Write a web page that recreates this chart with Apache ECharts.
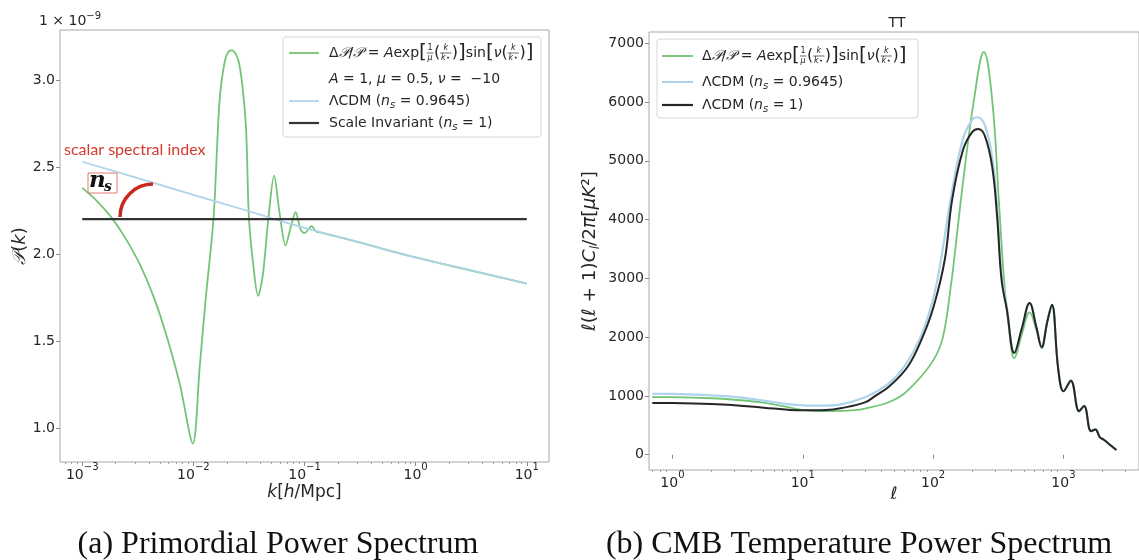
<!DOCTYPE html>
<html><head><meta charset="utf-8">
<script src="https://cdn.jsdelivr.net/npm/echarts@6/dist/echarts.min.js"></script>
<style>html,body{margin:0;padding:0;background:#fff}#c{width:1139px;height:560px}</style>
</head><body><div id="c"></div>
<script>
// ---------- Panel (a): primordial power spectrum (values in units of 1e-9) ----------
const kGreen = [0.001, 0.00133, 0.0018, 0.0024, 0.0033, 0.0045, 0.0058, 0.0076, 0.0099, 0.0114, 0.0129, 0.0152, 0.0172, 0.0192, 0.0208, 0.0224, 0.0240, 0.0257, 0.0278, 0.0299, 0.0316, 0.0347, 0.0382, 0.0422, 0.0474, 0.0533, 0.0595, 0.0676, 0.0755, 0.0832, 0.0923, 0.100, 0.116, 0.127, 0.147, 0.3, 1, 10];
const pGreen = [2.38, 2.31, 2.216, 2.10, 1.94, 1.735, 1.52, 1.245, 0.91, 1.35, 1.74, 2.21, 2.88, 3.11, 3.165, 3.17, 3.15, 3.10, 2.95, 2.70, 2.21, 1.93, 1.76, 1.88, 2.21, 2.45, 2.24, 2.05, 2.16, 2.24, 2.14, 2.12, 2.16, 2.13, 2.12, 2.07, 1.98, 1.83];
const kLcdm = [0.001, 0.003, 0.01, 0.03, 0.1, 0.3, 1, 3, 10];
const pLcdm = [2.53, 2.44, 2.34, 2.25, 2.15, 2.07, 1.98, 1.91, 1.83];
const kInv = [0.001, 10];
const pInv = [2.2, 2.2];
const aXTicks = [1e-3, 1e-2, 1e-1, 1, 10];
const aYTicks = [1.0, 1.5, 2.0, 2.5, 3.0];

// ---------- Panel (b): CMB TT spectrum ----------
const ellTail = [912, 1003, 1140, 1320, 1440, 1630, 1760, 1900, 2040, 2150, 2300, 2550];
const clTail = [1460, 1080, 1260, 740, 830, 400, 430, 300, 255, 215, 160, 80];
const ellInv = [0.7, 1, 2, 3, 5, 8, 10, 15, 20, 30, 36, 46, 64, 83, 101, 123, 140, 170, 200, 222, 250, 284, 310, 335, 368, 420, 480, 550, 620, 681, 750, 816];
const clInv = [880, 878, 862, 840, 800, 762, 755, 760, 795, 890, 1000, 1160, 1500, 2000, 2520, 3320, 4340, 5190, 5490, 5540, 5420, 4900, 4050, 2980, 2470, 1730, 2150, 2580, 2170, 1830, 2250, 2550];
const ellLcdm = [0.7, 1, 2, 3, 5, 8, 10, 15, 20, 31.6, 45, 60, 80, 100, 115, 140, 170, 200, 220, 250, 284, 310, 335, 368, 420, 480, 550, 620, 681, 750, 816];
const clLcdm = [1037, 1035, 1010, 985, 920, 855, 840, 835, 860, 1000, 1200, 1500, 2000, 2650, 3320, 4500, 5380, 5700, 5740, 5600, 5060, 4200, 3080, 2520, 1740, 2150, 2580, 2170, 1830, 2250, 2550];
const ellGreen = [0.7, 1, 2, 3, 5, 8, 10, 15, 20, 30, 50, 70, 100, 119, 139, 145, 170, 206, 245, 284, 320, 350, 380, 420, 480, 550, 620, 681, 750, 816];
const clGreen = [981, 979, 960, 935, 885, 800, 760, 742, 745, 785, 930, 1180, 1600, 2000, 2980, 3320, 4650, 6040, 6850, 6040, 4300, 2980, 2200, 1640, 2050, 2420, 2120, 1810, 2250, 2550];
const bXTicks = [1, 10, 100, 1000];
const bYTicks = [0, 1000, 2000, 3000, 4000, 5000, 6000, 7000];

// ---------- styling ----------
const TXT = '#262626', FRAME = '#a8a8a8', TICK = '#8a8a8a';
const GREEN = '#74c476', BLUE = '#add4ea', BLACK = '#262626';
const FAM = 'DejaVu Sans';
const TS = 14;
function pow10Label(v){ const e = Math.round(Math.log10(v)); return '{b|10}{e|' + String(e).replace('-', '\u2212') + '}'; }
const powRich = {
  b: {fontSize: TS, fontFamily: FAM, color: TXT, lineHeight: 20, verticalAlign: 'bottom'},
  e: {fontSize: 10, fontFamily: FAM, color: TXT, lineHeight: 11, verticalAlign: 'top'}
};
function minorTicks(lo, hi){ const out = []; for (let e = Math.floor(Math.log10(lo)); e <= Math.ceil(Math.log10(hi)); e++) for (let m = 2; m <= 9; m++){ const v = m * Math.pow(10, e); if (v > lo && v < hi) out.push(v); } return out; }
const zip = (a, b) => a.map((x, i) => [x, b[i]]);

const aXmin = Math.pow(10, -3.2), aXmax = Math.pow(10, 1.2);
const bXmin = Math.pow(10, -0.18), bXmax = Math.pow(10, 3.58);

function majorX(grid, min, max, ticks, name, nameGap){
  return { gridIndex: grid, type: 'log', logBase: 10, min, max, position: 'bottom',
    axisLine: {show: false}, splitLine: {show: false},
    axisTick: {show: true, customValues: ticks, length: 4, lineStyle: {color: TICK, width: 1}},
    axisLabel: {customValues: ticks, formatter: pow10Label, rich: powRich, color: TXT, margin: 0},
    name, nameLocation: 'middle', nameGap, nameMoveOverlap: false,
    nameTextStyle: {color: TXT, fontSize: 17, fontFamily: FAM, rich: {
      i: {fontStyle: 'italic', fontSize: 17, fontFamily: FAM, color: TXT},
      n: {fontSize: 17, fontFamily: FAM, color: TXT}}}
  };
}
function minorX(grid, min, max){
  return { gridIndex: grid, type: 'log', logBase: 10, min, max, position: 'bottom',
    axisLine: {show: false}, splitLine: {show: false}, axisLabel: {show: false},
    axisTick: {show: true, customValues: minorTicks(min, max), length: 2, lineStyle: {color: TICK, width: 0.8}} };
}

const option = {
  animation: false,
  backgroundColor: '#fff',
  grid: [
    {left: 60, top: 30, width: 489, height: 432, show: true, borderColor: FRAME, borderWidth: 1, containLabel: false},
    {left: 649, top: 32, width: 495, height: 438, show: true, borderColor: FRAME, borderWidth: 1, containLabel: false}
  ],
  xAxis: [
    majorX(0, aXmin, aXmax, aXTicks, '{i|k}{n|[}{i|h}{n|/Mpc]}', 22),
    minorX(0, aXmin, aXmax),
    majorX(1, bXmin, bXmax, bXTicks, '{i|\u2113}', 16),
    minorX(1, bXmin, bXmax)
  ],
  yAxis: [
    { gridIndex: 0, type: 'value', min: 0.805, max: 3.287,
      axisLine: {show: false}, splitLine: {show: false},
      axisTick: {customValues: aYTicks, length: 4, lineStyle: {color: TICK}},
      axisLabel: {customValues: aYTicks, formatter: v => v.toFixed(1), color: TXT, fontSize: TS, fontFamily: FAM, margin: 5},
      name: '{c|\ud835\udcab}{n|(}{i|k}{n|)}', nameLocation: 'middle', nameRotate: 90, nameGap: 31,
      nameTextStyle: {rich: {
        c: {fontSize: 18, fontFamily: FAM, fontStyle: 'italic', color: TXT},
        i: {fontSize: 18, fontFamily: FAM, fontStyle: 'italic', color: TXT},
        n: {fontSize: 18, fontFamily: FAM, color: TXT}}}
    },
    { gridIndex: 1, type: 'value', min: -260, max: 7190,
      axisLine: {show: false}, splitLine: {show: false},
      axisTick: {customValues: bYTicks, length: 4, lineStyle: {color: TICK}},
      axisLabel: {customValues: bYTicks, formatter: v => String(v), color: TXT, fontSize: TS, fontFamily: FAM, margin: 5},
      name: '{i|\u2113}{n|(}{i|\u2113}{n| + 1)}{i|C}{s|l}{n|/2}{i|\u03c0}{n|[}{i|\u03bcK}{n|\u00b2]}',
      nameLocation: 'middle', nameRotate: 90, nameGap: 47,
      nameTextStyle: {rich: {
        i: {fontSize: 18.5, fontFamily: FAM, fontStyle: 'italic', color: TXT, lineHeight: 24},
        n: {fontSize: 18.5, fontFamily: FAM, color: TXT, lineHeight: 24},
        s: {fontSize: 12, fontFamily: FAM, fontStyle: 'italic', color: TXT, lineHeight: 24, verticalAlign: 'bottom', padding: [6, 0, 0, 0]}}}
    }
  ],
  series: [
    {type: 'line', name: 'mod-a', xAxisIndex: 0, yAxisIndex: 0, data: zip(kGreen, pGreen), showSymbol: false, smooth: 0.3, lineStyle: {color: GREEN, width: 1.8}, itemStyle: {color: GREEN}},
    {type: 'line', name: 'lcdm-a', xAxisIndex: 0, yAxisIndex: 0, data: zip(kLcdm, pLcdm), showSymbol: false, smooth: true, lineStyle: {color: BLUE, width: 1.8}, itemStyle: {color: BLUE}},
    {type: 'line', name: 'inv-a', xAxisIndex: 0, yAxisIndex: 0, data: zip(kInv, pInv), showSymbol: false, lineStyle: {color: '#333', width: 2.2}, itemStyle: {color: '#333'}},
    {type: 'line', name: 'mod-b', xAxisIndex: 2, yAxisIndex: 1, data: zip(ellGreen.concat(ellTail), clGreen.concat(clTail)), showSymbol: false, smooth: 0.4, lineStyle: {color: GREEN, width: 1.8}, itemStyle: {color: GREEN}},
    {type: 'line', name: 'lcdm-b', xAxisIndex: 2, yAxisIndex: 1, data: zip(ellLcdm.concat(ellTail), clLcdm.concat(clTail)), showSymbol: false, smooth: 0.4, lineStyle: {color: BLUE, width: 2.2}, itemStyle: {color: BLUE}},
    {type: 'line', name: 'inv-b', xAxisIndex: 2, yAxisIndex: 1, data: zip(ellInv.concat(ellTail), clInv.concat(clTail)), showSymbol: false, smooth: 0.4, lineStyle: {color: BLACK, width: 2}, itemStyle: {color: BLACK}}
  ]
};

// ---------- text layout helpers for legends / annotations ----------
const mctx = document.createElement('canvas').getContext('2d');
function meas(t, size, italic, fam){ mctx.font = (italic ? 'italic ' : '') + size + 'px "' + (fam || FAM) + '"'; return mctx.measureText(t).width; }
function T(t, x, y, size, italic, align, color, fam, weight){
  return {type: 'text', x, y, silent: true, z: 100, style: {text: t, fontSize: size, fontFamily: fam || FAM, fontStyle: italic ? 'italic' : 'normal', fontWeight: weight || 'normal', fill: color || TXT, align: align || 'left', verticalAlign: 'middle'}};
}
function mathRow(x, y, parts, size){
  const els = []; let cx = x;
  for (const p of parts){
    if (p.fr){
      const fs = Math.round(size * 0.57);
      const it0 = p.fr[0] !== '1';
      const w = Math.max(meas(p.fr[0], fs, it0), meas(p.fr[1], fs, true)) + 1.5;
      els.push(T(p.fr[0], cx + w / 2, y - fs * 0.6, fs, it0, 'center'));
      els.push(T(p.fr[1], cx + w / 2, y + fs * 0.62, fs, true, 'center'));
      els.push({type: 'line', silent: true, z: 100, shape: {x1: cx, y1: y, x2: cx + w, y2: y}, style: {stroke: TXT, lineWidth: 0.7}});
      cx += w + 0.5;
    } else if (p.sub){
      const fs = Math.round(size * 0.7);
      els.push(T(p.sub, cx, y + size * 0.28, fs, true));
      cx += meas(p.sub, fs, true);
    } else {
      const s = p.s || size;
      els.push(T(p.t, cx, y + (p.dy || 0), s, !!p.it));
      cx += meas(p.t, s, !!p.it);
    }
  }
  return els;
}
function formulaParts(size){
  const B = size + 6, Pp = size + 2;
  return [{t: '\u0394'}, {t: '\ud835\udcab', it: true}, {t: '/'}, {t: '\ud835\udcab', it: true}, {t: ' = '}, {t: 'A', it: true}, {t: 'exp'},
    {t: '[', s: B}, {fr: ['1', '\u03bc']}, {t: '(', s: Pp}, {fr: ['k', 'k\u22c6']}, {t: ')', s: Pp}, {t: ']', s: B},
    {t: 'sin'}, {t: '[', s: B}, {t: '\u03bd', it: true}, {t: '(', s: Pp}, {fr: ['k', 'k\u22c6']}, {t: ')', s: Pp}, {t: ']', s: B}];
}
function legendLine(x1, x2, y, color, w){ return {type: 'line', silent: true, z: 100, shape: {x1, y1: y, x2, y2: y}, style: {stroke: color, lineWidth: w}}; }
function legendBox(x, y, w, h){ return {type: 'rect', silent: true, z: 99, shape: {x, y, width: w, height: h, r: 3}, style: {fill: 'rgba(255,255,255,0.85)', stroke: '#d6d6d6', lineWidth: 1}}; }

const LS = 14;
let g = [];
// legend (a)
g.push(legendBox(283, 37, 258, 100));
g.push(legendLine(289, 319, 53, GREEN, 1.8));
g = g.concat(mathRow(329, 53, formulaParts(LS), LS));
g = g.concat(mathRow(329, 79, [{t: 'A', it: true}, {t: ' = 1, '}, {t: '\u03bc', it: true}, {t: ' = 0.5, '}, {t: '\u03bd', it: true}, {t: ' =  \u221210'}], LS));
g.push(legendLine(289, 319, 101, BLUE, 1.8));
g = g.concat(mathRow(329, 101, [{t: '\u039bCDM ('}, {t: 'n', it: true}, {sub: 's'}, {t: ' = 0.9645)'}], LS));
g.push(legendLine(289, 319, 123, '#333', 2.2));
g = g.concat(mathRow(329, 123, [{t: 'Scale Invariant ('}, {t: 'n', it: true}, {sub: 's'}, {t: ' = 1)'}], LS));
// legend (b)
g.push(legendBox(657, 39, 261, 79));
g.push(legendLine(662, 693, 56, GREEN, 1.8));
g = g.concat(mathRow(702, 56, formulaParts(LS), LS));
g.push(legendLine(662, 693, 82, BLUE, 2));
g = g.concat(mathRow(702, 82, [{t: '\u039bCDM ('}, {t: 'n', it: true}, {sub: 's'}, {t: ' = 0.9645)'}], LS));
g.push(legendLine(662, 693, 105, BLACK, 2.2));
g = g.concat(mathRow(702, 105, [{t: '\u039bCDM ('}, {t: 'n', it: true}, {sub: 's'}, {t: ' = 1)'}], LS));
// offset text, title
g = g.concat(mathRow(39, 21, [{t: '1 \u00d7 10'}, {t: '\u22129', s: 10, dy: -5}], 14));
g.push(T('TT', 897, 23, 14, false, 'center'));
// annotation
g.push(T('scalar spectral index', 64, 150, 16, false, 'left', '#d43a2f', 'Lato'));
g.push({type: 'rect', silent: true, z: 100, shape: {x: 88, y: 173, width: 29, height: 20}, style: {fill: 'none', stroke: '#e07a72', lineWidth: 1}});
g.push(T('n', 89, 181, 23, true, 'left', '#111', 'DejaVu Serif', 'bold'));
g.push(T('s', 104, 187, 14, true, 'left', '#111', 'DejaVu Serif', 'bold'));
g.push({type: 'arc', silent: true, z: 100, shape: {cx: 153, cy: 217, r: 33, startAngle: Math.PI, endAngle: 1.5 * Math.PI, clockwise: true}, style: {stroke: '#c8281e', lineWidth: 3.5, fill: 'none'}});
// captions
g.push(T('(a) Primordial Power Spectrum', 278, 545, 32, false, 'center', '#111', 'Liberation Serif'));
g.push(T('(b) CMB Temperature Power Spectrum', 859, 545, 32, false, 'center', '#111', 'Liberation Serif'));
option.graphic = {elements: g};

const chart = echarts.init(document.getElementById('c'), null, {renderer: 'canvas'});
chart.setOption(option);
</script>
</body></html>
